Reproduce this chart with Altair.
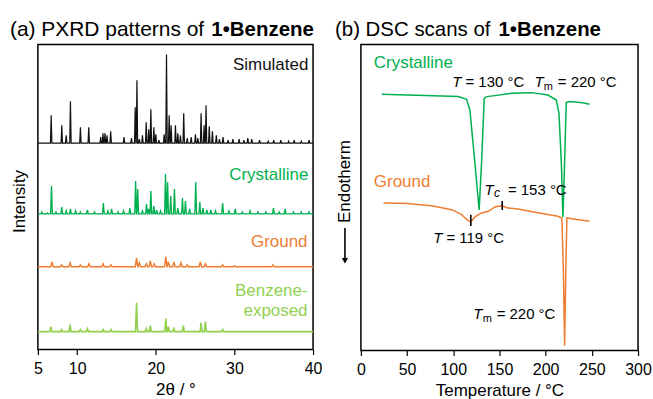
import altair as alt
import pandas as pd

# ---------------- PXRD (left) : peak lists ----------------
sim_pos = [6.69, 8.04, 8.6, 9.14, 10.41, 11.47, 12.99, 13.28, 13.53, 13.79,
           14.26, 15.95, 16.9, 17.38, 17.6, 17.9, 18.3, 18.78, 19.1, 19.37,
           19.75, 20.0, 20.4, 21.06, 21.36, 21.7, 21.95, 22.5, 22.8, 23.13,
           23.55, 24.0, 24.5, 25.04, 25.35, 25.76, 26.14, 26.39, 26.8, 27.2,
           27.7, 28.1, 28.55, 29.2, 29.8, 30.6, 31.2, 31.7, 32.2, 33.2,
           34.3, 35.0, 35.9, 36.9, 37.6, 38.5, 39.5]
sim_h = [28, 18, 8, 42, 16, 16, 6, 10, 10, 8,
         12, 6, 5, 36, 63, 4, 8, 21, 14, 34,
         16, 9, 3, 9, 89, 28, 18, 18, 10, 8,
         30, 5, 6, 9, 5, 30, 18, 38, 17, 12,
         8, 4, 6, 3, 4, 4, 3, 5, 4, 3,
         2, 3, 3, 2, 3, 2, 3]
sim_base = 207

cry_pos = [5.5, 6.2, 6.73, 7.3, 8.04, 8.6, 9.14, 9.8, 10.4, 11.3,
           12.2, 13.33, 13.9, 14.38, 15.2, 15.9, 16.7, 17.43, 17.7, 18.3,
           18.82, 19.1, 19.37, 19.75, 20.1, 20.6, 21.23, 21.5, 21.9, 22.37,
           22.8, 23.39, 23.77, 24.3, 25.08, 25.6, 26.0, 26.5, 27.0, 27.6,
           28.5, 29.3, 30.1, 31.0, 32.0, 33.0, 34.0, 34.97, 35.7, 36.45,
           37.5, 38.5, 39.5]
cry_h = [2, 1, 28, 2, 7, 3, 5, 3, 2, 4,
         2, 11, 3, 5, 2, 3, 6, 33, 25, 3,
         10, 5, 23, 8, 4, 3, 40, 32, 18, 25,
         6, 16, 13, 5, 32, 12, 6, 4, 4, 3,
         11, 3, 5, 2, 3, 2, 2, 6, 2, 5,
         2, 2, 2]
cry_base = 136

gr_pos = [6.78, 8.0, 9.1, 10.4, 11.5, 13.3, 14.3, 17.55, 17.9, 18.8,
          19.3, 19.8, 21.27, 21.6, 22.3, 23.2, 24.0, 25.66, 26.3, 28.5,
          30.0, 34.9]
gr_h = [5, 2, 4, 2, 3, 3, 2, 9, 4, 3,
        6, 3, 10, 5, 5, 4, 2, 5, 3, 2,
        1, 2]
gr_base = 83

bz_pos = [6.65, 8.0, 9.1, 10.4, 11.3, 13.3, 14.3, 17.55, 18.8, 19.3,
          21.27, 21.6, 22.3, 23.5, 25.76, 26.3, 28.5]
bz_h = [5, 2, 7, 2, 3, 2, 2, 29, 3, 6,
        13, 5, 3, 6, 9, 10, 2]
bz_base = 18

pxrd_names = ["Simulated", "Crystalline", "Ground", "Benzene"]
pxrd_colors = ["#111111", "#00B050", "#ED7D31", "#92D050"]
pxrd_widths = [1.2, 1.6, 1.7, 1.7]

pxrd_label_text = ["Simulated", "Crystalline", "Ground", "Benzene-", "exposed"]
pxrd_label_x = [39.4, 39.4, 39.3, 39.3, 39.3]
pxrd_label_y = [285, 175, 108, 59, 39]
pxrd_label_col = ["#111111", "#00B050", "#ED7D31", "#92D050", "#92D050"]

# ---------------- DSC (right) : traces ----------------
dsc_cry_T = [22.7, 60, 105.4, 114.4, 118, 123.4, 128, 130.6, 133.5, 136,
             145, 163, 184.5, 202.5, 211.5, 214.4, 217, 218.7, 220.5, 222.3,
             225.9, 240, 247.5]
dsc_cry_v = [257, 256, 254.7, 252, 241.3, 188, 141, 188, 253, 254.7,
             255.7, 258, 258.7, 256.3, 251.3, 238, 188, 134, 188, 248.7,
             249.7, 248.5, 247]

dsc_gr_T = [24.5, 50, 76.6, 98.2, 109, 114, 118.7, 123.4, 130.6, 137.8,
            145, 152.2, 159.4, 170, 190, 213.3, 217.5, 219.2, 220.5, 221.8,
            223, 230, 247.5]
dsc_gr_v = [148, 147.5, 145.3, 141.3, 136.3, 132, 128.7, 134, 138, 139.7,
            144, 145.3, 143, 142, 138.5, 134.7, 133, 80, 4.7, 80,
            133, 132, 129.7]

dsc_label_text = ["Crystalline", "Ground"]
dsc_label_x = [14.0, 14.0]
dsc_label_y = [288, 169]
dsc_label_col = ["#00B050", "#ED7D31"]

# annotations: italic "T", optional subscript, rest of text
ann_x = [98.95, 187.8, 133.8, 78.4, 121.6]
ann_y = [269, 269, 161, 113, 36.3]
ann_sub = ["", "m", "c", "", "m"]
ann_rest = ["= 130 °C", "= 220 °C", "= 153 °C", "= 119 °C", "= 220 °C"]

mark_T = [119, 153]
mark_lo = [125, 141]
mark_hi = [136.3, 150]

FONT = "Liberation Sans"

# ---------------- build tables ----------------
def spikes(name, pos, h, base, w):
    rows = [(5.0, base)]
    for p, hh in zip(pos, h):
        rows += [(p - w, base), (p, base + hh), (p + w, base)]
    rows.append((40.0, base))
    return pd.DataFrame({"x": [r[0] for r in rows], "y": [r[1] for r in rows], "s": name})

pxrd = pd.concat([
    spikes("Simulated", sim_pos, sim_h, sim_base, 0.09),
    spikes("Crystalline", cry_pos, cry_h, cry_base, 0.11),
    spikes("Ground", gr_pos, gr_h, gr_base, 0.16),
    spikes("Benzene", bz_pos, bz_h, bz_base, 0.13),
], ignore_index=True)

pxrd_labels = pd.DataFrame({"x": pxrd_label_x, "y": pxrd_label_y,
                            "t": pxrd_label_text, "c": pxrd_label_col})

dsc = pd.concat([
    pd.DataFrame({"x": dsc_gr_T, "y": dsc_gr_v, "s": "Ground", "o": 0}),
    pd.DataFrame({"x": dsc_cry_T, "y": dsc_cry_v, "s": "Crystalline", "o": 1}),
], ignore_index=True)
dsc_labels = pd.DataFrame({"x": dsc_label_x, "y": dsc_label_y,
                           "t": dsc_label_text, "c": dsc_label_col})
ann = pd.DataFrame({"x": ann_x, "y": ann_y, "sub": ann_sub, "rest": ann_rest})
marks = pd.DataFrame({"x": mark_T, "y": mark_lo, "y2": mark_hi})

LW, LH = 276, 306
RW, RH = 278, 307

# ---------------- left panel ----------------
xL = alt.X("x:Q", scale=alt.Scale(domain=[5, 40], nice=False, zero=False),
           axis=alt.Axis(values=[5, 10, 20, 30, 40], title="2θ / °", grid=False,
                         domain=False, tickSize=5, tickColor="black", tickWidth=1.2,
                         labelFontSize=16, labelColor="black", labelPadding=6,
                         labelFlush=False,
                         titleFontSize=17, titleFontWeight="normal", titleColor="black",
                         titlePadding=5))
yL = alt.Y("y:Q", scale=alt.Scale(domain=[0, LH], nice=False),
           axis=alt.Axis(title="Intensity", labels=False, ticks=False, domain=False,
                         grid=False, titleFontSize=17, titleFontWeight="normal",
                         titleColor="black", titlePadding=9, titleY=157))

lines_L = alt.Chart(pxrd).mark_line().encode(
    x=xL, y=yL,
    color=alt.Color("s:N", scale=alt.Scale(domain=pxrd_names, range=pxrd_colors), legend=None),
    strokeWidth=alt.StrokeWidth("s:N", scale=alt.Scale(domain=pxrd_names, range=pxrd_widths),
                                legend=None),
    detail="s:N",
)
labels_L = alt.Chart(pxrd_labels).mark_text(align="right", baseline="middle", fontSize=17).encode(
    x=alt.X("x:Q"), y=alt.Y("y:Q"), text="t:N", color=alt.Color("c:N", scale=None))

title_La = alt.Chart(pd.DataFrame({"t": ["(a) PXRD patterns of"]})).mark_text(
    align="left", baseline="alphabetic", fontSize=21, color="black").encode(
    x=alt.value(-28), y=alt.value(-9), text="t:N")
title_Lb = alt.Chart(pd.DataFrame({"t": ["1•Benzene"]})).mark_text(
    align="left", baseline="alphabetic", fontSize=20.5, fontWeight="bold", color="black").encode(
    x=alt.value(174), y=alt.value(-9), text="t:N")

left = alt.layer(lines_L, labels_L, title_La, title_Lb).properties(width=LW, height=LH)

# ---------------- right panel ----------------
xR = alt.X("x:Q", scale=alt.Scale(domain=[0, 300], nice=False, zero=False),
           axis=alt.Axis(values=[0, 50, 100, 150, 200, 250, 300], title="Temperature / °C",
                         grid=False, domain=False, tickSize=5, tickColor="black", tickWidth=1.2,
                         labelFontSize=16, labelColor="black", labelPadding=6,
                         labelFlush=False,
                         titleFontSize=17, titleFontWeight="normal", titleColor="black",
                         titlePadding=5))
yR = alt.Y("y:Q", scale=alt.Scale(domain=[0, RH], nice=False),
           axis=alt.Axis(title="Endotherm", labels=False, ticks=False, domain=False,
                         grid=False, titleFontSize=17, titleFontWeight="normal",
                         titleColor="black", titlePadding=7, titleY=137))

lines_R = alt.Chart(dsc).mark_line(strokeWidth=1.5).encode(
    x=xR, y=yR,
    color=alt.Color("s:N", scale=alt.Scale(domain=["Crystalline", "Ground"],
                                           range=["#00B050", "#ED7D31"]), legend=None),
    detail="s:N", order="o:Q",
)
labels_R = alt.Chart(dsc_labels).mark_text(align="left", baseline="middle", fontSize=17).encode(
    x="x:Q", y="y:Q", text="t:N", color=alt.Color("c:N", scale=None))

ann_T = alt.Chart(ann).mark_text(align="left", baseline="middle", fontSize=15,
                                 fontStyle="italic", color="black").encode(
    x="x:Q", y="y:Q", text=alt.value("T"))
ann_m = alt.Chart(ann).transform_filter("datum.sub == 'm'").mark_text(
    align="left", baseline="middle", fontSize=11, dx=9.5, dy=5, color="black").encode(
    x="x:Q", y="y:Q", text="sub:N")
ann_c = alt.Chart(ann).transform_filter("datum.sub == 'c'").mark_text(
    align="left", baseline="middle", fontSize=12, fontStyle="italic", dx=9.5, dy=3, color="black").encode(
    x="x:Q", y="y:Q", text="sub:N")
ann_rest1 = alt.Chart(ann).transform_filter("datum.sub == ''").mark_text(
    align="left", baseline="middle", fontSize=15, dx=13.2, color="black").encode(
    x="x:Q", y="y:Q", text="rest:N")
ann_rest2 = alt.Chart(ann).transform_filter("datum.sub != ''").mark_text(
    align="left", baseline="middle", fontSize=15, dx=23.5, color="black").encode(
    x="x:Q", y="y:Q", text="rest:N")
ticks_R = alt.Chart(marks).mark_rule(color="black", strokeWidth=1.6).encode(
    x="x:Q", y="y:Q", y2="y2:Q")

# arrow under the "Endotherm" axis title
arrow_shaft = alt.Chart(pd.DataFrame({"a": [0]})).mark_rule(color="black", strokeWidth=1.6).encode(
    x=alt.value(-16), y=alt.value(184), y2=alt.value(215))
arrow_head = alt.Chart(pd.DataFrame({"a": [0]})).mark_point(
    shape="triangle-down", filled=True, color="black", opacity=1, size=40).encode(
    x=alt.value(-16), y=alt.value(217))

title_Ra = alt.Chart(pd.DataFrame({"t": ["(b) DSC scans of"]})).mark_text(
    align="left", baseline="alphabetic", fontSize=20.5, color="black").encode(
    x=alt.value(-26), y=alt.value(-9), text="t:N")
title_Rb = alt.Chart(pd.DataFrame({"t": ["1•Benzene"]})).mark_text(
    align="left", baseline="alphabetic", fontSize=20.5, fontWeight="bold", color="black").encode(
    x=alt.value(138), y=alt.value(-9), text="t:N")

right = alt.layer(lines_R, ticks_R, labels_R, ann_T, ann_m, ann_c, ann_rest1, ann_rest2,
                  arrow_shaft, arrow_head, title_Ra, title_Rb).properties(width=RW, height=RH)

chart = alt.hconcat(left, right, spacing=11).properties(
    padding={"left": 9, "top": 17, "right": 0, "bottom": 0}
).configure(font=FONT).configure_view(stroke="black", strokeWidth=1.5)

chart.save("out.html", embed_options={"renderer": "svg", "actions": False})
